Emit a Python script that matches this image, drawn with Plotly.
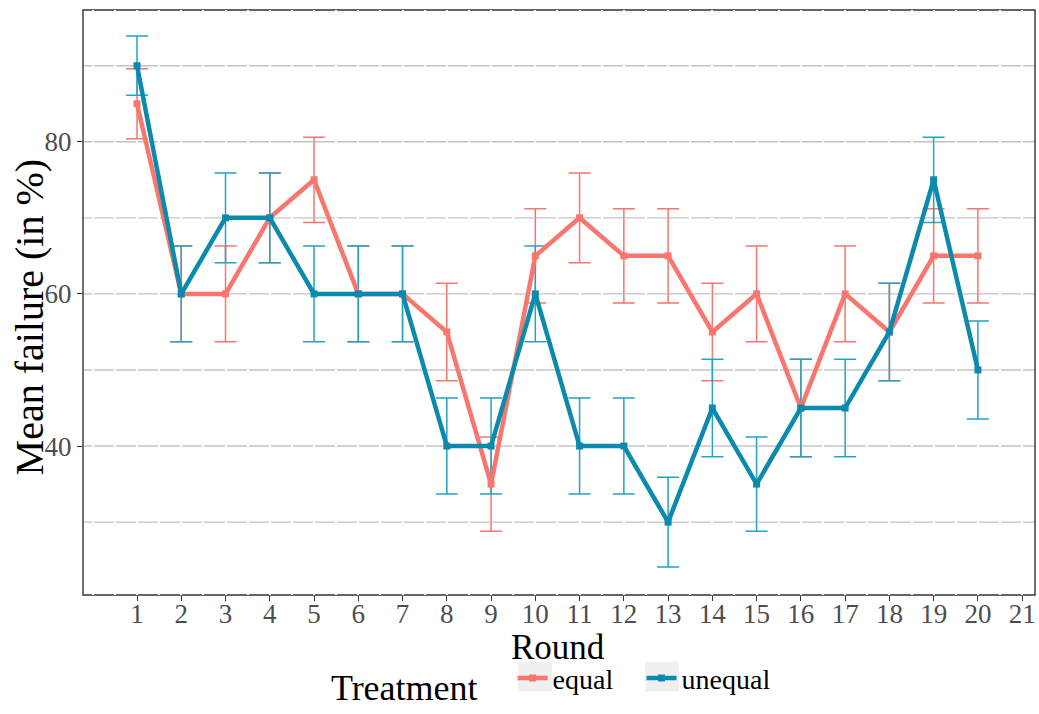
import plotly.graph_objects as go

rounds = list(range(1, 21))
x_ticks = list(range(1, 22))
equal_mean = [85, 60, 60, 70, 75, 60, 60, 55, 35, 65, 70, 65, 65, 55, 60, 45, 60, 55, 65, 65]
equal_se = [4.6, 6.3, 6.3, 5.9, 5.6, 6.3, 6.3, 6.4, 6.2, 6.2, 5.9, 6.2, 6.2, 6.4, 6.3, 6.4, 6.3, 6.4, 6.2, 6.2]
unequal_mean = [90, 60, 70, 70, 60, 60, 60, 40, 40, 60, 40, 40, 30, 45, 35, 45, 45, 55, 75, 50]
unequal_se = [3.9, 6.3, 5.9, 5.9, 6.3, 6.3, 6.3, 6.3, 6.3, 6.3, 6.3, 6.3, 5.9, 6.4, 6.2, 6.4, 6.4, 6.4, 5.6, 6.45]
y_ticks = [40, 60, 80]
y_grid = [30, 40, 50, 60, 70, 80, 90]

RED = "#F8766D"
BLUE_LINE = "#0C8AAE"
BLUE_ERR = "#22A4C4"
SERIF = "Liberation Serif, Times New Roman, serif"

fig = go.Figure()

# error bars first
for name, m, se, col in [("equal", equal_mean, equal_se, RED),
                         ("unequal", unequal_mean, unequal_se, BLUE_ERR)]:
    fig.add_trace(go.Scatter(
        x=rounds, y=m, mode="markers", marker=dict(size=1, opacity=0),
        error_y=dict(type="data", array=se, visible=True, color=col, thickness=1.5, width=11),
        showlegend=False, hoverinfo="skip"))

for name, m, col in [("equal", equal_mean, RED), ("unequal", unequal_mean, BLUE_LINE)]:
    fig.add_trace(go.Scatter(
        x=rounds, y=m, mode="lines+markers", name=name,
        line=dict(color=col, width=4.5),
        marker=dict(color=col, size=7, symbol="square")))

shapes = []
for gy in y_grid:
    shapes.append(dict(type="line", xref="paper", x0=0, x1=1, yref="y", y0=gy, y1=gy,
                       line=dict(color="#c4c4c4", width=1.4), layer="below"))
shapes.append(dict(type="rect", xref="paper", yref="paper", x0=0, x1=1, y0=0, y1=1,
                   line=dict(color="#333333", width=1.4), layer="below"))
# grey legend key backgrounds
for kx0, kx1 in [(0.4569, 0.4926), (0.5903, 0.6261)]:
    shapes.append(dict(type="rect", xref="paper", yref="paper", x0=kx0, x1=kx1,
                       y0=-0.165, y1=-0.1139, line=dict(width=0),
                       fillcolor="#f0f0f0", layer="above"))

annotations = [
    dict(text="Round", xref="paper", yref="paper", x=0.499, y=-0.09,
         xanchor="center", yanchor="middle", showarrow=False, borderpad=0,
         font=dict(family=SERIF, size=35, color="black")),
    dict(text="Mean failure (in %)", xref="paper", yref="paper", x=-0.0567, y=0.4745,
         xanchor="center", yanchor="middle", textangle=-90, showarrow=False,
         font=dict(family=SERIF, size=40, color="black")),
]

fig.update_layout(
    width=1039, height=714,
    margin=dict(l=83, r=4, t=10, b=116),
    plot_bgcolor="white", paper_bgcolor="white",
    font=dict(family=SERIF, color="black"),
    shapes=shapes, annotations=annotations,
    xaxis=dict(
        range=[-0.22, 21.29], tickmode="array", tickvals=x_ticks,
        ticktext=[str(v) for v in x_ticks],
        showgrid=True, gridcolor="white", gridwidth=2,
        minor=dict(tick0=0, dtick=0.5, showgrid=True, gridcolor="white", gridwidth=2),
        ticks="outside", ticklen=5, tickcolor="#333333", tickwidth=1.2,
        ticklabelstandoff=-10,
        showline=False, zeroline=False, automargin=False,
        tickfont=dict(family=SERIF, size=27, color="#4d4d4d"),
    ),
    yaxis=dict(
        range=[20.42, 97.32], tickmode="array", tickvals=y_ticks,
        showgrid=False, zeroline=False, showline=False, automargin=False,
        ticks="outside", ticklen=5, tickcolor="#333333", tickwidth=1.2,
        tickfont=dict(family=SERIF, size=27, color="#4d4d4d"),
    ),
    legend=dict(
        orientation="h", x=0.2583, xanchor="left", y=-0.197, yanchor="bottom",
        title=dict(text="Treatment   ", font=dict(family=SERIF, size=36, color="black")),
        font=dict(family=SERIF, size=28, color="black"),
        itemwidth=30, entrywidth=84, bgcolor="rgba(0,0,0,0)",
    ),
)

fig.write_html("out.html", config={"displayModeBar": False},
               post_script="document.body.style.margin='0';document.body.style.overflow='hidden';")
